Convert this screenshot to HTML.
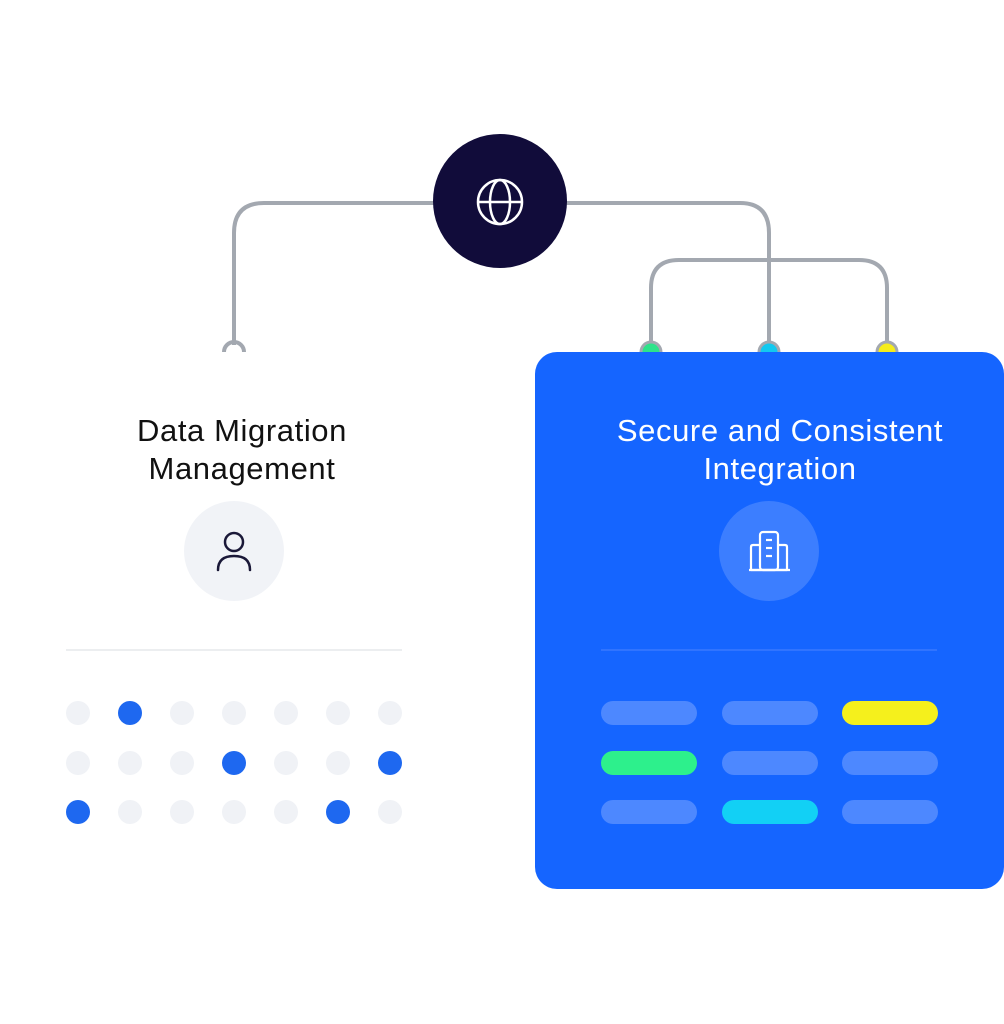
<!DOCTYPE html>
<html><head><style>
html,body{margin:0;padding:0;background:#fff;}
body{width:1004px;height:1024px;position:relative;overflow:hidden;font-family:"Liberation Sans",sans-serif;}
.t{position:absolute;text-align:center;font-size:31px;line-height:38px;letter-spacing:0.6px;white-space:nowrap;}
</style></head><body>
<svg width="1004" height="1024" style="position:absolute;left:0;top:0">
<g fill="none" stroke="#a3a8b0" stroke-width="4">
<path d="M234 345 V233 Q234 203 264 203 H740 Q769 203 769 233 V345"/>
<path d="M651 345 V288 Q651 260 679 260 H859 Q887 260 887 288 V345"/>
<path d="M224 352 A10 10 0 0 1 244 352"/>
</g>
<circle cx="651" cy="352" r="10" fill="#2de38a" stroke="#a3a8b0" stroke-width="3"/>
<circle cx="769" cy="352" r="10" fill="#12c9f0" stroke="#a3a8b0" stroke-width="3"/>
<circle cx="887" cy="352" r="10" fill="#f5ec1a" stroke="#a3a8b0" stroke-width="3"/>
<circle cx="500" cy="201" r="67" fill="#110c3a"/>
<g fill="none" stroke="#fff" stroke-width="2.5">
<circle cx="500" cy="202" r="22"/>
<ellipse cx="500" cy="202" rx="10" ry="22"/>
<line x1="478" y1="202" x2="522" y2="202"/>
</g>
<rect x="535" y="352" width="469" height="537" rx="22" fill="#1565ff"/>
<circle cx="234" cy="551" r="50" fill="#f1f3f7"/>
<g fill="none" stroke="#1a1838" stroke-width="2.5" stroke-linecap="round">
<circle cx="234" cy="542" r="9"/>
<path d="M218 570 Q218 556 234 556 Q250 556 250 570"/>
</g>
<circle cx="769" cy="551" r="50" fill="#3c7eff"/>
<g fill="none" stroke="#fff" stroke-width="2.2" stroke-linejoin="round">
<rect x="760" y="532" width="18" height="38" rx="3"/>
<path d="M760 545 H753 Q751 545 751 547 V570 H787 V547 Q787 545 785 545 H778"/>
<line x1="749" y1="570" x2="790" y2="570"/>
<line x1="766" y1="540" x2="772" y2="540"/><line x1="766" y1="548" x2="772" y2="548"/><line x1="766" y1="556" x2="772" y2="556"/>
</g>
<line x1="66" y1="650" x2="402" y2="650" stroke="#e6e8ec" stroke-width="1.5"/>
<line x1="601" y1="650" x2="937" y2="650" stroke="#3a7aff" stroke-width="1.5"/>
<g fill="#f0f2f6">
<circle cx="78" cy="713" r="12"/><circle cx="182" cy="713" r="12"/><circle cx="234" cy="713" r="12"/><circle cx="286" cy="713" r="12"/><circle cx="338" cy="713" r="12"/><circle cx="390" cy="713" r="12"/>
<circle cx="78" cy="763" r="12"/><circle cx="130" cy="763" r="12"/><circle cx="182" cy="763" r="12"/><circle cx="286" cy="763" r="12"/><circle cx="338" cy="763" r="12"/>
<circle cx="130" cy="812" r="12"/><circle cx="182" cy="812" r="12"/><circle cx="234" cy="812" r="12"/><circle cx="286" cy="812" r="12"/><circle cx="390" cy="812" r="12"/>
</g>
<g fill="#1e68f0">
<circle cx="130" cy="713" r="12"/><circle cx="234" cy="763" r="12"/><circle cx="390" cy="763" r="12"/><circle cx="78" cy="812" r="12"/><circle cx="338" cy="812" r="12"/>
</g>
<g fill="#4d88ff">
<rect x="601" y="701" width="96" height="24" rx="12"/><rect x="722" y="701" width="96" height="24" rx="12"/>
<rect x="722" y="751" width="96" height="24" rx="12"/><rect x="842" y="751" width="96" height="24" rx="12"/>
<rect x="601" y="800" width="96" height="24" rx="12"/><rect x="842" y="800" width="96" height="24" rx="12"/>
</g>
<rect x="842" y="701" width="96" height="24" rx="12" fill="#f5f01c"/>
<rect x="601" y="751" width="96" height="24" rx="12" fill="#2df08c"/>
<rect x="722" y="800" width="96" height="24" rx="12" fill="#12d0f5"/>
</svg>
<div class="t" style="left:42px;top:412px;width:400px;color:#111">Data Migration<br>Management</div>
<div class="t" style="left:560px;top:412px;width:440px;color:#fff">Secure and Consistent<br>Integration</div>
</body></html>
